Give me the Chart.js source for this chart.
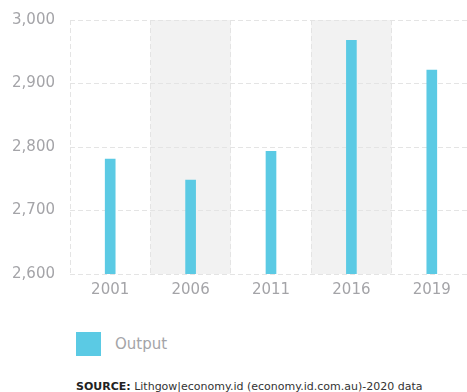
<!DOCTYPE html>
<html>
<head>
<meta charset="utf-8">
<script src="https://cdn.jsdelivr.net/npm/chart.js@4"></script>
<style>
  html, body { margin:0; padding:0; background:#fff; overflow:hidden; }
  #wrap { position:relative; width:467px; height:392px; overflow:hidden; }
  #box { position:absolute; left:0; top:-4px; width:476px; height:304px; }
  .legend { position:absolute; left:76px; top:332px; display:flex; align-items:center; font-family:"DejaVu Sans",sans-serif; font-size:15px; color:#a4a4a8; }
  .legend .sw { width:25px; height:24px; background:#5bcae4; margin-right:14px; }
  .source { position:absolute; left:76px; top:380px; font-family:"DejaVu Sans",sans-serif; font-size:11px; color:#333; white-space:nowrap; }
  .source b { color:#222; }
</style>
</head>
<body>
<div id="wrap">
  <div id="box"><canvas id="c" width="476" height="304"></canvas></div>
  <div class="legend"><div class="sw"></div>Output</div>
  <div class="source"><b>SOURCE:</b> Lithgow|economy.id (economy.id.com.au)-2020 data</div>
</div>
<script>
'use strict';

const years  = ['2001', '2006', '2011', '2016', '2019'];
const output = [2781, 2748, 2793, 2968, 2921];
const shaded = ['2006', '2016'];
const yMin = 2600, yMax = 3000, yStep = 100;

// grey bands behind every other year
const bandPlugin = {
  id: 'bands',
  beforeDraw(chart) {
    const { ctx, chartArea, scales: { x } } = chart;
    const half = (x.getPixelForValue(1) - x.getPixelForValue(0)) / 2;
    ctx.save();
    ctx.fillStyle = '#f2f2f2';
    shaded.forEach(y => {
      const px = x.getPixelForValue(years.indexOf(y));
      ctx.fillRect(px - half, chartArea.top, half * 2, chartArea.bottom - chartArea.top);
    });
    ctx.restore();
  }
};

const tickFont = { family: '"DejaVu Sans", sans-serif', size: 15 };

new Chart(document.getElementById('c').getContext('2d'), {
  type: 'bar',
  data: {
    labels: years,
    datasets: [{
      label: 'Output',
      data: output,
      backgroundColor: '#5bcae4',
      barThickness: 10
    }]
  },
  options: {
    responsive: false,
    animation: false,
    layout: { padding: { top: 14, right: 4, left: 0, bottom: 0 } },
    plugins: { legend: { display: false }, tooltip: { enabled: false } },
    scales: {
      x: {
        offset: true,
        grid: { offset: true, color: '#e4e4e4', drawTicks: false },
        border: { display: false, dash: [5, 3] },
        ticks: { color: '#a4a4a8', font: tickFont, padding: 7 },
        afterFit(s) { s.height = 26; }
      },
      y: {
        min: yMin, max: yMax,
        grid: { color: '#e4e4e4', drawTicks: false },
        border: { display: false, dash: [5, 3] },
        ticks: {
          stepSize: yStep, color: '#a4a4a8', font: tickFont, padding: 15,
          callback: v => v.toLocaleString('en-US')
        },
        afterFit(s) { s.width = 70; }
      }
    }
  },
  plugins: [bandPlugin]
});
</script>
</body>
</html>
